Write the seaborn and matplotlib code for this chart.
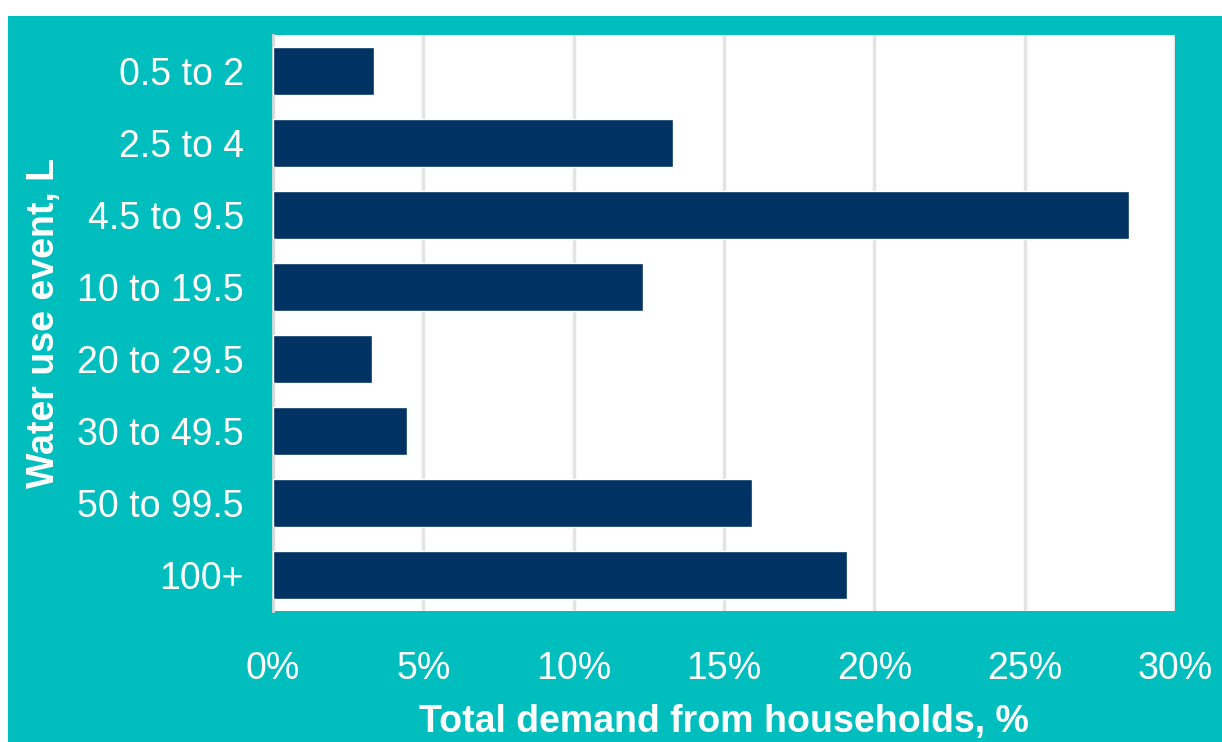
import numpy as np
import pandas as pd

import matplotlib
matplotlib.use("Agg")
import matplotlib.pyplot as plt
import matplotlib.ticker as mtick
import seaborn as sns


# DATA
categories = ["0.5 to 2", "2.5 to 4", "4.5 to 9.5", "10 to 19.5",
              "20 to 29.5", "30 to 49.5", "50 to 99.5", "100+"]

demand_pct = [3.37, 13.32, 28.46, 12.29, 3.29, 4.46, 15.93, 19.1]

x_ticks = [0, 5, 10, 15, 20, 25, 30]

df = pd.DataFrame({"event": categories, "demand": demand_pct})


# STYLE
teal = "#00BEBE"
navy = "#003263"

sns.set_theme(style="white")
plt.rcParams["font.family"] = ["Liberation Sans", "DejaVu Sans"]


# FIGURE
fig = plt.figure(figsize=(12.22, 7.42), dpi=100)
fig.patch.set_facecolor("white")

# teal panel behind the chart
bg = fig.add_axes([8 / 1222, 0, 1 - 8 / 1222, 1 - 16 / 742], zorder=-1)
bg.set_facecolor(teal)
bg.set_xticks([])
bg.set_yticks([])
for s in bg.spines.values():
    s.set_visible(False)

ax = fig.add_axes([273 / 1222, 131 / 742, 902 / 1222, 576 / 742], zorder=1)
ax.set_facecolor("white")


# BARS
sns.barplot(
    data=df,
    x="demand",
    y="event",
    order=categories,
    color=navy,
    saturation=1,
    width=0.667,
    ax=ax,
    zorder=3
)

ax.set_xlim(0, 30)
ax.set_ylim(7.5, -0.5)

ax.set_xticks(x_ticks)
ax.xaxis.set_major_formatter(mtick.FuncFormatter(lambda v, p: f"{v:.0f}%"))

ax.set_axisbelow(True)
ax.grid(axis="x", color="#E4E4E4", linewidth=2.5)
ax.grid(axis="y", visible=False)

for s in ["top", "right", "bottom"]:
    ax.spines[s].set_visible(False)
ax.spines["left"].set_color("#D9D9D9")
ax.spines["left"].set_linewidth(2)

ax.tick_params(axis="both", length=0, labelsize=27, labelcolor="white")
ax.tick_params(axis="x", pad=29)
ax.tick_params(axis="y", pad=21)


# LABELS
ax.set_xlabel("Total demand from households, %",
              fontsize=27, fontweight="bold", color="white", labelpad=12)
ax.set_ylabel("Water use event, L",
              fontsize=27, fontweight="bold", color="white", labelpad=11)


fig.savefig("out.png", dpi=100, facecolor=fig.get_facecolor())
